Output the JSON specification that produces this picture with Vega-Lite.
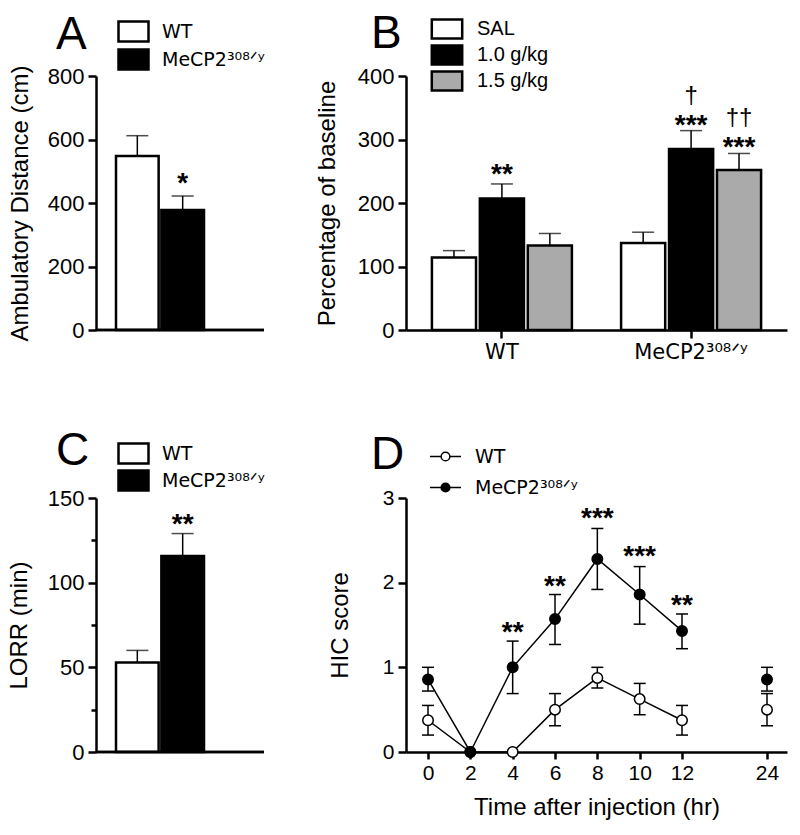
{
 "$schema": "https://vega.github.io/schema/vega-lite/v6.json",
 "background": "white",
 "padding": {"left": 7, "top": 11, "right": 5, "bottom": 5},
 "bounds": "flush",
 "columns": 2,
 "spacing": {"row": 168, "column": 142},
 "resolve": {"scale": {"fill": "independent"}, "legend": {"fill": "independent"}},
 "config": {
  "font": "Liberation Sans",
  "view": {"stroke": null},
  "axis": {"domainColor": "black", "domainWidth": 2.5, "tickColor": "black", "tickWidth": 2.5, "labelColor": "black", "labelFontSize": 22, "titleFontSize": 24, "titleFontWeight": "normal", "titleColor": "black", "grid": false, "labelPadding": 4},
  "legend": {"labelFontSize": 19, "labelFont": "DejaVu Sans", "labelColor": "black", "padding": 0},
  "title": {"fontSize": 46, "fontWeight": "normal", "anchor": "start", "color": "black", "offset": 0, "frame": "group"}
 },
 "concat": [
    {
     "width": 168, "height": 254,
     "title": {"text": "A", "dx": -40, "dy": 43},
     "data": {"values": [
      {"genotype": "WT", "mean": 548, "upper": 612},
      {"genotype": "MeCP2³⁰⁸ᐟʸ", "mean": 378, "upper": 422}
     ]},
     "layer": [
      {
       "mark": {"type": "bar", "stroke": "black", "strokeWidth": 2.5},
       "encoding": {
        "x": {"field": "genotype", "type": "nominal", "sort": null, "axis": null, "scale": {"range": [20, 108], "paddingInner": 0.06, "paddingOuter": 0}},
        "y": {"field": "mean", "type": "quantitative", "scale": {"domain": [0, 800], "nice": false},
              "axis": {"title": "Ambulatory Distance (cm)", "values": [0, 100, 200, 300, 400, 500, 600, 700, 800], "labelExpr": "datum.value % 200 === 0 ? datum.label : ''", "tickSize": {"condition": {"test": "datum.value % 200 === 0", "value": 8}, "value": 5}, "titlePadding": 15}},
        "fill": {"field": "genotype", "type": "nominal", "sort": null, "scale": {"range": ["white", "black"]},
                 "legend": {"orient": "none", "legendX": 26, "legendY": -56, "title": null, "symbolType": "M-1.5,-1H1.5V1H-1.5Z", "symbolSize": 400, "symbolStrokeColor": "black", "symbolStrokeWidth": 2.5, "labelOffset": 17, "rowPadding": -3}}
       }
      },
      {
       "mark": {"type": "rule", "strokeWidth": 1.5, "color": "black"},
       "encoding": {"x": {"field": "genotype", "type": "nominal", "sort": null}, "y": {"field": "mean", "type": "quantitative"}, "y2": {"field": "upper"}}
      },
      {
       "mark": {"type": "tick", "size": 22, "thickness": 1.5, "color": "black"},
       "encoding": {"x": {"field": "genotype", "type": "nominal", "sort": null}, "y": {"field": "upper", "type": "quantitative"}}
      },
      {
       "data": {"values": [{"genotype": "MeCP2³⁰⁸ᐟʸ", "pos": 484, "label": "*"}]},
       "mark": {"type": "text", "fontSize": 28, "fontWeight": "bold", "dy": 8, "color": "black"},
       "encoding": {"x": {"field": "genotype", "type": "nominal", "sort": null}, "y": {"field": "pos", "type": "quantitative"}, "text": {"field": "label"}}
      },
      {
       "mark": {"type": "rule", "strokeWidth": 2.5, "color": "black"},
       "encoding": {"y": {"datum": 0}}
      }
     ]
    },
    {
     "width": 381, "height": 254,
     "title": {"text": "B", "dx": -35, "dy": 44},
     "data": {"values": [
      {"geno": "WT", "dose": "SAL", "mean": 114, "upper": 125},
      {"geno": "WT", "dose": "1.0 g/kg", "mean": 207, "upper": 230},
      {"geno": "WT", "dose": "1.5 g/kg", "mean": 133, "upper": 152},
      {"geno": "MeCP2³⁰⁸ᐟʸ", "dose": "SAL", "mean": 137, "upper": 154},
      {"geno": "MeCP2³⁰⁸ᐟʸ", "dose": "1.0 g/kg", "mean": 285, "upper": 314},
      {"geno": "MeCP2³⁰⁸ᐟʸ", "dose": "1.5 g/kg", "mean": 252, "upper": 278}
     ]},
     "layer": [
      {
       "mark": {"type": "bar", "stroke": "black", "strokeWidth": 2.5},
       "encoding": {
        "x": {"field": "geno", "type": "nominal", "sort": null, "scale": {"paddingInner": 0.26, "paddingOuter": 0.137},
              "axis": {"title": null, "labelAngle": 0, "tickSize": 8, "labelPadding": 3, "labelFontSize": 21, "labelFont": "DejaVu Sans"}},
        "xOffset": {"field": "dose", "type": "nominal", "sort": null, "scale": {"paddingInner": 0.08}},
        "y": {"field": "mean", "type": "quantitative", "scale": {"domain": [0, 400], "nice": false},
              "axis": {"title": "Percentage of baseline", "values": [0, 50, 100, 150, 200, 250, 300, 350, 400], "labelExpr": "datum.value % 100 === 0 ? datum.label : ''", "tickSize": {"condition": {"test": "datum.value % 100 === 0", "value": 8}, "value": 5}, "titlePadding": 18}},
        "fill": {"field": "dose", "type": "nominal", "sort": null, "scale": {"range": ["white", "black", "#aaaaaa"]},
                 "legend": {"orient": "none", "legendX": 30, "legendY": -58, "title": null, "symbolType": "M-1.6,-1H1.6V1H-1.6Z", "symbolSize": 361, "symbolStrokeColor": "black", "symbolStrokeWidth": 2.5, "labelOffset": 19, "rowPadding": -4, "labelFont": "Liberation Sans", "labelFontSize": 20}}
       }
      },
      {
       "mark": {"type": "rule", "strokeWidth": 1.5, "color": "black"},
       "encoding": {"x": {"field": "geno", "type": "nominal", "sort": null}, "xOffset": {"field": "dose", "type": "nominal", "sort": null}, "y": {"field": "mean", "type": "quantitative"}, "y2": {"field": "upper"}}
      },
      {
       "mark": {"type": "tick", "size": 22, "thickness": 1.5, "color": "black"},
       "encoding": {"x": {"field": "geno", "type": "nominal", "sort": null}, "xOffset": {"field": "dose", "type": "nominal", "sort": null}, "y": {"field": "upper", "type": "quantitative"}}
      },
      {
       "data": {"values": [
        {"geno": "WT", "dose": "1.0 g/kg", "pos": 256, "label": "**"},
        {"geno": "MeCP2³⁰⁸ᐟʸ", "dose": "1.0 g/kg", "pos": 334, "label": "***"},
        {"geno": "MeCP2³⁰⁸ᐟʸ", "dose": "1.5 g/kg", "pos": 299, "label": "***"}
       ]},
       "mark": {"type": "text", "fontSize": 28, "fontWeight": "bold", "dy": 8, "color": "black"},
       "encoding": {"x": {"field": "geno", "type": "nominal", "sort": null}, "xOffset": {"field": "dose", "type": "nominal", "sort": null}, "y": {"field": "pos", "type": "quantitative"}, "text": {"field": "label"}}
      },
      {
       "data": {"values": [
        {"geno": "MeCP2³⁰⁸ᐟʸ", "dose": "1.0 g/kg", "pos": 368, "label": "†"},
        {"geno": "MeCP2³⁰⁸ᐟʸ", "dose": "1.5 g/kg", "pos": 334, "label": "††"}
       ]},
       "mark": {"type": "text", "fontSize": 24, "color": "black"},
       "encoding": {"x": {"field": "geno", "type": "nominal", "sort": null}, "xOffset": {"field": "dose", "type": "nominal", "sort": null}, "y": {"field": "pos", "type": "quantitative"}, "text": {"field": "label"}}
      }
     ]
    },
    {
     "width": 168, "height": 254,
     "title": {"text": "C", "dx": -40, "dy": 37},
     "data": {"values": [
      {"genotype": "WT", "mean": 52.8, "upper": 60},
      {"genotype": "MeCP2³⁰⁸ᐟʸ", "mean": 115.7, "upper": 129}
     ]},
     "layer": [
      {
       "mark": {"type": "bar", "stroke": "black", "strokeWidth": 2.5},
       "encoding": {
        "x": {"field": "genotype", "type": "nominal", "sort": null, "axis": null, "scale": {"range": [20, 108], "paddingInner": 0.06, "paddingOuter": 0}},
        "y": {"field": "mean", "type": "quantitative", "scale": {"domain": [0, 150], "nice": false},
              "axis": {"title": "LORR (min)", "values": [0, 25, 50, 75, 100, 125, 150], "labelExpr": "datum.value % 50 === 0 ? datum.label : ''", "tickSize": {"condition": {"test": "datum.value % 50 === 0", "value": 8}, "value": 5}, "titlePadding": 16}},
        "fill": {"field": "genotype", "type": "nominal", "sort": null, "scale": {"range": ["white", "black"]},
                 "legend": {"orient": "none", "legendX": 26, "legendY": -56, "title": null, "symbolType": "M-1.5,-1H1.5V1H-1.5Z", "symbolSize": 400, "symbolStrokeColor": "black", "symbolStrokeWidth": 2.5, "labelOffset": 17, "rowPadding": -6}}
       }
      },
      {
       "mark": {"type": "rule", "strokeWidth": 1.5, "color": "black"},
       "encoding": {"x": {"field": "genotype", "type": "nominal", "sort": null}, "y": {"field": "mean", "type": "quantitative"}, "y2": {"field": "upper"}}
      },
      {
       "mark": {"type": "tick", "size": 22, "thickness": 1.5, "color": "black"},
       "encoding": {"x": {"field": "genotype", "type": "nominal", "sort": null}, "y": {"field": "upper", "type": "quantitative"}}
      },
      {
       "data": {"values": [{"genotype": "MeCP2³⁰⁸ᐟʸ", "pos": 139, "label": "**"}]},
       "mark": {"type": "text", "fontSize": 28, "fontWeight": "bold", "dy": 8, "color": "black"},
       "encoding": {"x": {"field": "genotype", "type": "nominal", "sort": null}, "y": {"field": "pos", "type": "quantitative"}, "text": {"field": "label"}}
      },
      {
       "mark": {"type": "rule", "strokeWidth": 2.5, "color": "black"},
       "encoding": {"y": {"datum": 0}}
      }
     ]
    },
    {
     "width": 381, "height": 254,
     "title": {"text": "D", "dx": -35, "dy": 37},
     "data": {"values": [
      {"time": 0, "group": "WT", "mean": 0.375, "lo": 0.2, "hi": 0.55},
      {"time": 2, "group": "WT", "mean": 0, "lo": null, "hi": null},
      {"time": 4, "group": "WT", "mean": 0, "lo": null, "hi": null},
      {"time": 6, "group": "WT", "mean": 0.5, "lo": 0.31, "hi": 0.69},
      {"time": 8, "group": "WT", "mean": 0.875, "lo": 0.756, "hi": 1.0},
      {"time": 10, "group": "WT", "mean": 0.625, "lo": 0.44, "hi": 0.81},
      {"time": 12, "group": "WT", "mean": 0.375, "lo": 0.2, "hi": 0.55},
      {"time": 24, "group": "WT", "mean": 0.5, "lo": 0.31, "hi": 0.69},
      {"time": 0, "group": "MeCP2³⁰⁸ᐟʸ", "mean": 0.857, "lo": 0.72, "hi": 1.0},
      {"time": 2, "group": "MeCP2³⁰⁸ᐟʸ", "mean": 0, "lo": null, "hi": null},
      {"time": 4, "group": "MeCP2³⁰⁸ᐟʸ", "mean": 1.0, "lo": 0.69, "hi": 1.31},
      {"time": 6, "group": "MeCP2³⁰⁸ᐟʸ", "mean": 1.57, "lo": 1.27, "hi": 1.86},
      {"time": 8, "group": "MeCP2³⁰⁸ᐟʸ", "mean": 2.28, "lo": 1.92, "hi": 2.64},
      {"time": 10, "group": "MeCP2³⁰⁸ᐟʸ", "mean": 1.86, "lo": 1.51, "hi": 2.19},
      {"time": 12, "group": "MeCP2³⁰⁸ᐟʸ", "mean": 1.43, "lo": 1.22, "hi": 1.63},
      {"time": 24, "group": "MeCP2³⁰⁸ᐟʸ", "mean": 0.857, "lo": 0.72, "hi": 1.0}
     ]},
     "layer": [
      {
       "transform": [{"filter": "datum.time <= 12"}],
       "mark": {"type": "line", "color": "black", "strokeWidth": 1.5},
       "encoding": {
        "x": {"field": "time", "type": "quantitative",
              "scale": {"type": "linear", "domain": [-1.04, 12, 24, 25.6], "range": [0, 276, 361, 381], "nice": false, "zero": false},
              "axis": {"title": "Time after injection (hr)", "values": [0, 2, 4, 6, 8, 10, 12, 24], "format": "d", "tickSize": 7, "labelPadding": 3, "labelFontSize": 21, "titlePadding": 12}},
        "y": {"field": "mean", "type": "quantitative", "scale": {"domain": [0, 3], "nice": false},
              "axis": {"title": "HIC score", "values": [0, 0.5, 1, 1.5, 2, 2.5, 3], "format": "d", "labelExpr": "datum.value % 1 === 0 ? datum.label : ''", "tickSize": {"condition": {"test": "datum.value % 1 === 0", "value": 8}, "value": 5}, "labelFontSize": 21, "titlePadding": 30}},
        "detail": {"field": "group", "type": "nominal"}
       }
      },
      {
       "mark": {"type": "rule", "strokeWidth": 1.5, "color": "black"},
       "encoding": {"x": {"field": "time", "type": "quantitative"}, "y": {"field": "lo", "type": "quantitative"}, "y2": {"field": "hi"}}
      },
      {
       "mark": {"type": "point", "shape": "M-1,0H1", "size": 144, "filled": false, "stroke": "black", "strokeWidth": 1.5, "opacity": 1},
       "encoding": {"x": {"field": "time", "type": "quantitative"}, "y": {"field": "lo", "type": "quantitative"}}
      },
      {
       "mark": {"type": "point", "shape": "M-1,0H1", "size": 144, "filled": false, "stroke": "black", "strokeWidth": 1.5, "opacity": 1},
       "encoding": {"x": {"field": "time", "type": "quantitative"}, "y": {"field": "hi", "type": "quantitative"}}
      },
      {
       "mark": {"type": "point", "shape": "circle", "size": 110, "stroke": "black", "strokeWidth": 1.5, "opacity": 1, "filled": true},
       "encoding": {
        "x": {"field": "time", "type": "quantitative"},
        "y": {"field": "mean", "type": "quantitative"},
        "fill": {"field": "group", "type": "nominal", "sort": null, "scale": {"range": ["white", "black"]},
                 "legend": {"orient": "none", "legendX": 29, "legendY": -52, "title": null, "symbolType": "M-1.6,0H-0.45M0.45,0H1.6M-0.45,0A0.45,0.45 0 1,1 0.45,0A0.45,0.45 0 1,1 -0.45,0", "symbolSize": 376, "symbolStrokeColor": "black", "symbolStrokeWidth": 1.5, "symbolOpacity": 1, "labelOffset": 19, "rowPadding": 10}}
       }
      },
      {
       "data": {"values": [
        {"time": 4, "pos": 1.5, "label": "**"},
        {"time": 6, "pos": 2.04, "label": "**"},
        {"time": 8, "pos": 2.85, "label": "***"},
        {"time": 10, "pos": 2.4, "label": "***"},
        {"time": 12, "pos": 1.82, "label": "**"}
       ]},
       "mark": {"type": "text", "fontSize": 28, "fontWeight": "bold", "dy": 8, "color": "black"},
       "encoding": {"x": {"field": "time", "type": "quantitative"}, "y": {"field": "pos", "type": "quantitative"}, "text": {"field": "label"}}
      }
     ]
    }
 ]
}
